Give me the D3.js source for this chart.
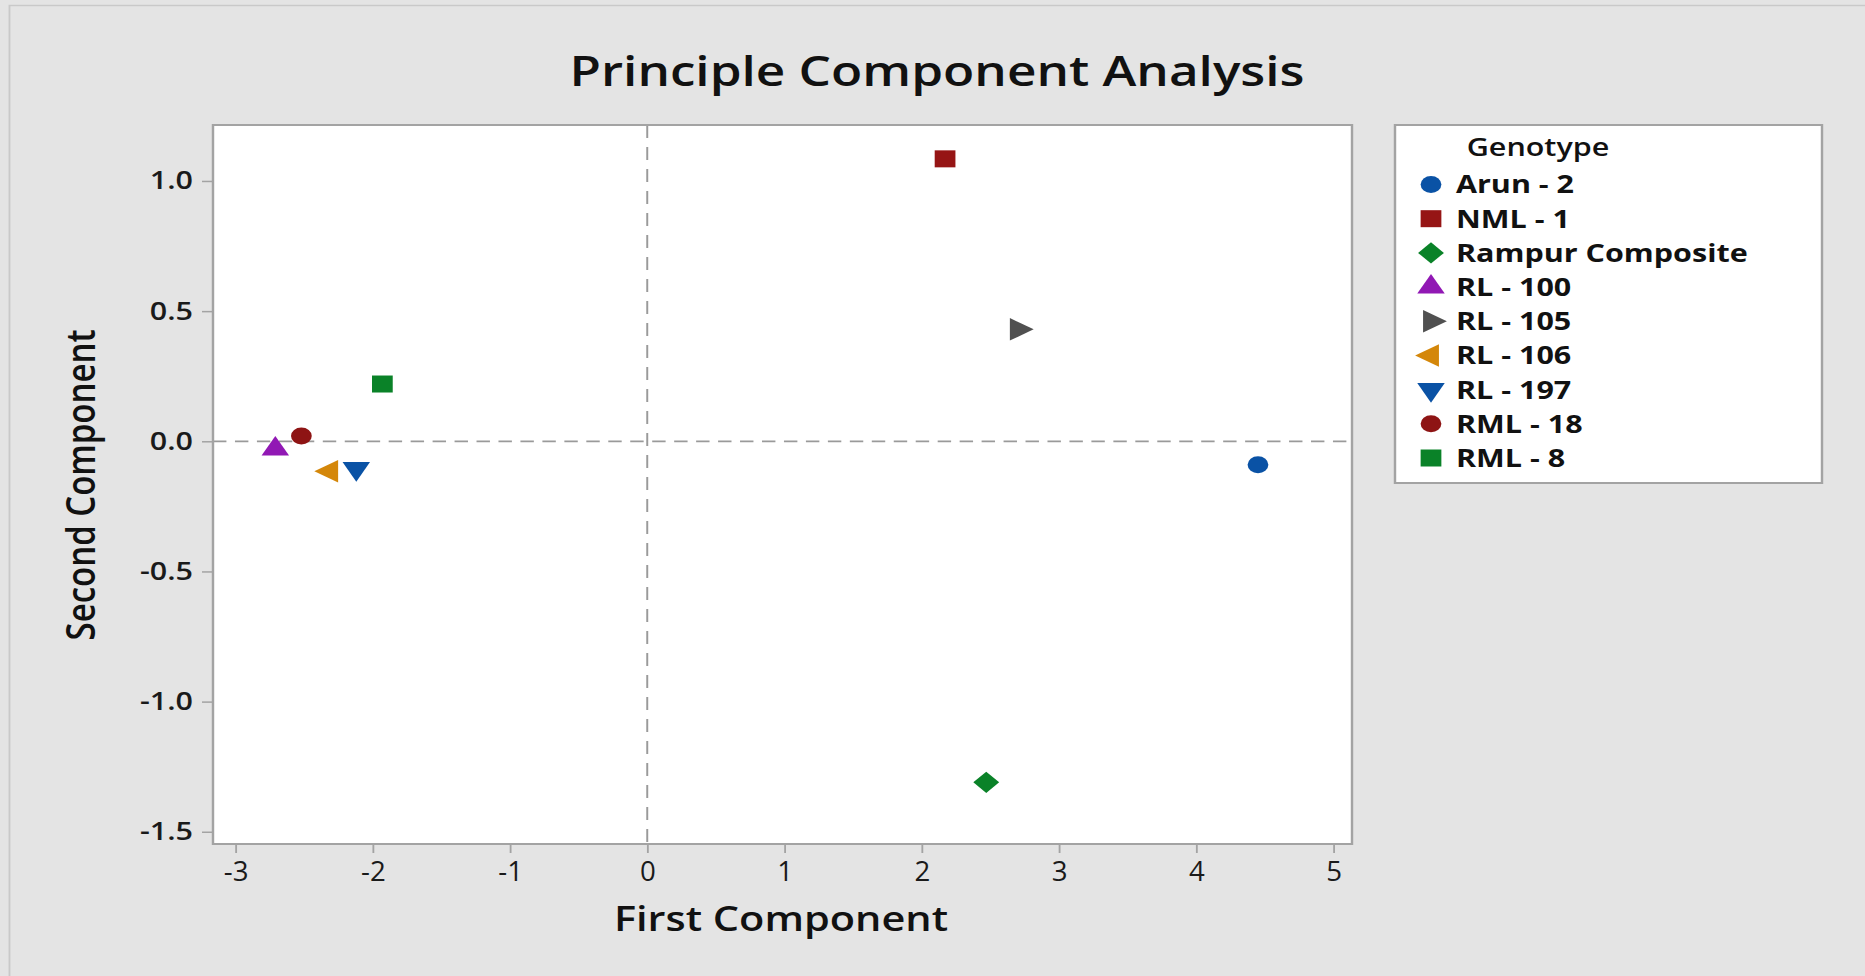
<!DOCTYPE html>
<html>
<head>
<meta charset="utf-8">
<script src="https://cdn.jsdelivr.net/npm/d3@7"></script>
<style>
  html, body { margin: 0; padding: 0; background: #e4e4e4; }
  svg { display: block; }
</style>
</head>
<body>
<svg id="chart"></svg>
<script>
// Genotype scores on the first two principal components
const genotypes = ["Arun - 2", "NML - 1", "Rampur Composite", "RL - 100", "RL - 105", "RL - 106", "RL - 197", "RML - 18", "RML - 8"];
const firstComponent  = [4.45, 2.17, 2.47, -2.71, 2.70, -2.31, -2.12, -2.52, -1.93];
const secondComponent = [-0.09, 1.085, -1.31, -0.03, 0.43, -0.115, -0.105, 0.02, 0.22];
const markerShapes = ["circle", "square", "diamond", "triangleUp", "triangleRight", "triangleLeft", "triangleDown", "circle", "square"];
const markerColors = ["#0a52a5", "#961515", "#0a8228", "#9118b4", "#505050", "#d4870a", "#0a52a5", "#8e1414", "#0a8228"];
const xTicks = [-3, -2, -1, 0, 1, 2, 3, 4, 5];
const yTicks = [1.0, 0.5, 0.0, -0.5, -1.0, -1.5];

// The graph is laid out on a horizontally compressed canvas and then
// stretched to the window width (wide-aspect Minitab style export).
const W = 1865, H = 976, K = 1.22;
const sx = v => v / K;           // window pixels -> canvas units (horizontal)
const VW = W / K;

const svg = d3.select("#chart")
  .attr("width", W).attr("height", H)
  .attr("viewBox", `0 0 ${VW} ${H}`)
  .attr("preserveAspectRatio", "none");

const plot = { left: sx(213), top: 125, right: sx(1352), bottom: 844 };

const x = d3.scaleLinear().domain([-3.164, 5.135]).range([plot.left, plot.right]);
const y = d3.scaleLinear().domain([1.215, -1.547]).range([plot.top, plot.bottom]);

const hyphen = s => s.replace("\u2212", "-");

// Outer frame
svg.append("rect").attr("x", 0).attr("y", 0).attr("width", VW).attr("height", H).attr("fill", "#e4e4e4");
svg.append("rect").attr("x", sx(9.5)).attr("y", 5.5).attr("width", VW + 20).attr("height", H + 20)
  .attr("fill", "#e4e4e4").attr("stroke", "#c9c9c9").attr("stroke-width", 1.5);

// Title
svg.append("text")
  .attr("x", sx(937)).attr("y", 86)
  .attr("text-anchor", "middle")
  .style("font-family", "'Open Sans', sans-serif")
  .style("font-weight", 600)
  .style("font-size", "42px")
  .attr("fill", "#111")
  .text("Principle Component Analysis");

// Plot panel
svg.append("rect")
  .attr("x", plot.left).attr("y", plot.top)
  .attr("width", plot.right - plot.left).attr("height", plot.bottom - plot.top)
  .attr("fill", "#ffffff");

// Zero reference lines
svg.append("line")
  .attr("x1", x(0)).attr("x2", x(0)).attr("y1", plot.top).attr("y2", plot.bottom)
  .attr("stroke", "#9a9a9a").attr("stroke-width", 1.6).attr("stroke-dasharray", "13,9");
svg.append("line")
  .attr("x1", plot.left).attr("x2", plot.right).attr("y1", y(0)).attr("y2", y(0))
  .attr("stroke", "#9a9a9a").attr("stroke-width", 1.8).attr("stroke-dasharray", "11,7");

// Panel border
svg.append("rect")
  .attr("x", plot.left).attr("y", plot.top)
  .attr("width", plot.right - plot.left).attr("height", plot.bottom - plot.top)
  .attr("fill", "none").attr("stroke", "#a3a3a3").attr("stroke-width", 2);

// Axes
const xAxis = d3.axisBottom(x).tickValues(xTicks)
  .tickFormat(d => hyphen(d3.format("d")(d))).tickSize(9).tickPadding(9);
const yAxis = d3.axisLeft(y).tickValues(yTicks)
  .tickFormat(d => hyphen(d3.format(".1f")(d))).tickSize(sx(11)).tickPadding(sx(9));

const gx = svg.append("g").attr("transform", `translate(0,${plot.bottom})`).call(xAxis);
gx.select(".domain").remove();
gx.selectAll(".tick line").attr("stroke", "#a3a3a3").attr("stroke-width", 1.5);
gx.selectAll(".tick text")
  .attr("transform", "scale(0.84,1)")
  .style("font-family", "'Open Sans', sans-serif")
  .style("font-size", "27px")
  .attr("fill", "#1a1a1a");

const gy = svg.append("g").attr("transform", `translate(${plot.left},0)`).call(yAxis);
gy.select(".domain").remove();
gy.selectAll(".tick line").attr("stroke", "#a3a3a3").attr("stroke-width", 1.5);
gy.selectAll(".tick text")
  .style("font-family", "'Open Sans', sans-serif")
  .style("font-weight", 600)
  .style("font-size", "25px")
  .attr("fill", "#1a1a1a");

// Axis titles
svg.append("text")
  .attr("x", sx(781)).attr("y", 931)
  .attr("text-anchor", "middle")
  .style("font-family", "'Open Sans', sans-serif")
  .style("font-weight", 600)
  .style("font-size", "34px")
  .attr("fill", "#111")
  .text("First Component");

svg.append("text")
  .attr("transform", `translate(${sx(95)},485) rotate(-90)`)
  .attr("text-anchor", "middle")
  .style("font-family", "'Open Sans', sans-serif")
  .style("font-weight", 600)
  .style("font-size", "33px")
  .attr("fill", "#111")
  .text("Second Component");

// Marker shapes
const markerStyle = {
  circle:        { type: d3.symbolCircle,   size: 227, rotate: 0 },
  square:        { type: d3.symbolSquare,   size: 289, rotate: 0 },
  diamond:       { type: d3.symbolSquare,   size: 225, rotate: 45 },
  triangleUp:    { type: d3.symbolTriangle, size: 220, rotate: 0 },
  triangleRight: { type: d3.symbolTriangle, size: 220, rotate: 90 },
  triangleLeft:  { type: d3.symbolTriangle, size: 220, rotate: -90 },
  triangleDown:  { type: d3.symbolTriangle, size: 220, rotate: 180 }
};
function markerPath(shape) {
  const s = markerStyle[shape];
  return d3.symbol().type(s.type).size(s.size)();
}
function markerTransform(shape, cx, cy) {
  return `translate(${cx},${cy}) rotate(${markerStyle[shape].rotate})`;
}

const points = genotypes.map((g, i) => ({
  name: g, pc1: firstComponent[i], pc2: secondComponent[i],
  shape: markerShapes[i], color: markerColors[i]
}));

svg.append("g").selectAll("path")
  .data(points)
  .join("path")
  .attr("d", d => markerPath(d.shape))
  .attr("transform", d => markerTransform(d.shape, x(d.pc1), y(d.pc2)))
  .attr("fill", d => d.color);

// Legend
const legend = svg.append("g");
legend.append("rect")
  .attr("x", sx(1395)).attr("y", 125).attr("width", sx(427)).attr("height", 358)
  .attr("fill", "#ffffff").attr("stroke", "#a3a3a3").attr("stroke-width", 2);
legend.append("text")
  .attr("x", sx(1538)).attr("y", 156)
  .attr("text-anchor", "middle")
  .style("font-family", "'Open Sans', sans-serif")
  .style("font-weight", 600)
  .style("font-size", "25px")
  .attr("fill", "#111")
  .text("Genotype");

const rowY = d3.scaleLinear().domain([0, genotypes.length - 1]).range([184.5, 458]);
const items = legend.selectAll("g.item")
  .data(points)
  .join("g")
  .attr("class", "item");
items.append("path")
  .attr("d", d => markerPath(d.shape))
  .attr("transform", (d, i) => markerTransform(d.shape, sx(1431), rowY(i)))
  .attr("fill", d => d.color);
items.append("text")
  .attr("x", sx(1456))
  .attr("y", (d, i) => rowY(i))
  .attr("dy", "0.36em")
  .style("font-family", "'Open Sans', sans-serif")
  .style("font-weight", 700)
  .style("font-size", "25px")
  .attr("fill", "#111")
  .text(d => d.name);
</script>
</body>
</html>
